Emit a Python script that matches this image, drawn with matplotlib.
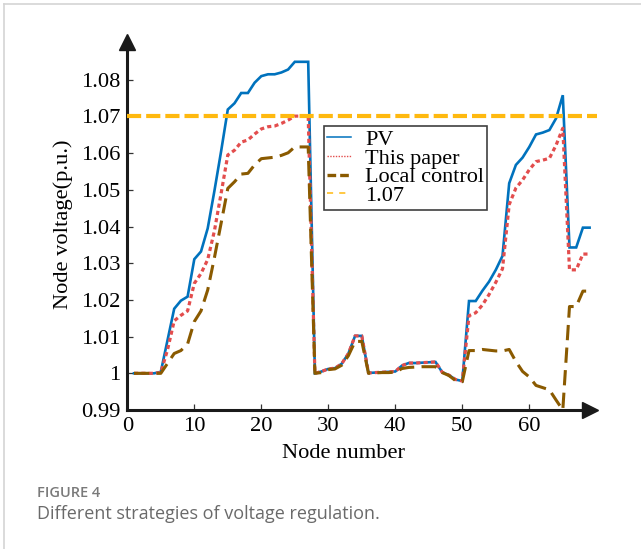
import matplotlib
matplotlib.use("Agg")
import matplotlib.pyplot as plt
from matplotlib.lines import Line2D
import numpy as np

# ---------------- data ----------------
nodes = list(range(1, 70))

pv = [1.0000, 1.0000, 1.0000, 1.0000, 1.0004, 1.0090, 1.0176, 1.0198, 1.0209, 1.0311,
      1.0332, 1.0395, 1.0497, 1.0605, 1.0719, 1.0736, 1.0764, 1.0764, 1.0792, 1.0810,
      1.0815, 1.0815, 1.0820, 1.0828, 1.0849, 1.0849, 1.0849, 1.0000, 1.0005, 1.0012,
      1.0014, 1.0026, 1.0054, 1.0102, 1.0102, 1.0001, 1.0002, 1.0003, 1.0004, 1.0005,
      1.0021, 1.0028, 1.0028, 1.0029, 1.0030, 1.0031, 1.0003, 0.9995, 0.9983, 0.9979,
      1.0197, 1.0197, 1.0225, 1.0250, 1.0282, 1.0320, 1.0518, 1.0568, 1.0588, 1.0617,
      1.0651, 1.0656, 1.0663, 1.0695, 1.0758, 1.0343, 1.0343, 1.0397, 1.0397]

this_paper = [1.0000, 1.0000, 1.0000, 1.0000, 1.0002, 1.0064, 1.0143, 1.0158, 1.0170, 1.0245,
              1.0272, 1.0310, 1.0388, 1.0490, 1.0595, 1.0608, 1.0630, 1.0636, 1.0652, 1.0666,
              1.0672, 1.0674, 1.0681, 1.0690, 1.0701, 1.0701, 1.0701, 1.0000, 1.0005, 1.0012,
              1.0014, 1.0026, 1.0054, 1.0102, 1.0102, 1.0001, 1.0002, 1.0003, 1.0004, 1.0005,
              1.0021, 1.0028, 1.0028, 1.0029, 1.0030, 1.0031, 1.0003, 0.9995, 0.9983, 0.9979,
              1.0157, 1.0165, 1.0186, 1.0215, 1.0248, 1.0285, 1.0460, 1.0505, 1.0527, 1.0555,
              1.0577, 1.0581, 1.0586, 1.0622, 1.0668, 1.0282, 1.0282, 1.0325, 1.0325]

local_control = [1.0000, 1.0000, 1.0000, 1.0000, 1.0000, 1.0027, 1.0054, 1.0062, 1.0080, 1.0141,
                 1.0170, 1.0227, 1.0315, 1.0409, 1.0504, 1.0522, 1.0543, 1.0545, 1.0568, 1.0585,
                 1.0587, 1.0589, 1.0594, 1.0601, 1.0617, 1.0617, 1.0617, 1.0000, 1.0002, 1.0010,
                 1.0012, 1.0022, 1.0048, 1.0087, 1.0087, 1.0000, 1.0001, 1.0002, 1.0002, 1.0003,
                 1.0013, 1.0016, 1.0017, 1.0018, 1.0018, 1.0018, 1.0002, 0.9994, 0.9980, 0.9977,
                 1.0062, 1.0062, 1.0065, 1.0063, 1.0061, 1.0061, 1.0065, 1.0032, 1.0005, 0.9990,
                 0.9967, 0.9961, 0.9955, 0.9927, 0.9900, 1.0182, 1.0182, 1.0224, 1.0224]

limit = 1.07

xticks = [0, 10, 20, 30, 40, 50, 60]
yticks = [0.99, 1.00, 1.01, 1.02, 1.03, 1.04, 1.05, 1.06, 1.07, 1.08]
ytick_labels = ["0.99", "1", "1.01", "1.02", "1.03", "1.04", "1.05", "1.06", "1.07", "1.08"]
legend_labels = ["PV", "This paper", "Local control", "1.07"]

# ---------------- style ----------------
C_PV = "#0072BD"
C_TP = "#E34D4D"
C_LC = "#8A5A00"
C_LIM = "#FFB90F"
SERIF = "Liberation Serif"

W, H = 641, 549
fig = plt.figure(figsize=(W / 100, H / 100), dpi=100)

# axes placement in pixels
ax_l, ax_r, ax_t, ax_b = 127.3, 590.0, 42.0, 410.0
ax = fig.add_axes([ax_l / W, 1 - ax_b / H, (ax_r - ax_l) / W, (ax_b - ax_t) / H])

ax.set_xlim(0, 69.06)
ax.set_ylim(0.99, 1.0903)

ax.plot(nodes, pv, color=C_PV, lw=1.9, solid_joinstyle="miter", clip_on=False, zorder=3)
ax.plot(nodes, this_paper, color=C_TP, lw=2.3, linestyle=(0, (1.3, 1.0)), clip_on=False, zorder=4)
ax.plot(nodes, local_control, color=C_LC, lw=2.2, linestyle=(0, (5.0, 2.4)), clip_on=False, zorder=5)
ax.axhline(limit, xmin=0, xmax=1.015, color=C_LIM, lw=3.0, linestyle=(0, (3.4, 1.2)),
           clip_on=False, zorder=6)

# spines
for s in ["top", "right"]:
    ax.spines[s].set_visible(False)
for s in ["left", "bottom"]:
    ax.spines[s].set_linewidth(2.2)
    ax.spines[s].set_color("#1a1a1a")

# arrow heads
ax.plot(1, 0, marker=">", color="#1a1a1a", markersize=11, transform=ax.transAxes, clip_on=False, zorder=7)
ax.plot(0, 1, marker="^", color="#1a1a1a", markersize=11, transform=ax.transAxes, clip_on=False, zorder=7)

ax.set_xticks(xticks)
ax.set_xticklabels([str(v) for v in xticks], family=SERIF, fontsize=16.2)
ax.set_yticks(yticks)
ax.set_yticklabels(ytick_labels, family=SERIF, fontsize=16.2)
ax.tick_params(axis="both", direction="in", length=4, width=0.9, color="#333333")
ax.tick_params(axis="x", pad=5)
ax.tick_params(axis="y", pad=5)

ax.set_xlabel("Node number", family=SERIF, fontsize=16.2)
ax.xaxis.set_label_coords((343 - ax_l) / (ax_r - ax_l), (ax_b - 454) / (ax_b - ax_t))
ax.xaxis.label.set_va("center")
ax.set_ylabel("Node voltage(p.u.)", family=SERIF, fontsize=16.2)
ax.yaxis.set_label_coords((63 - ax_l) / (ax_r - ax_l), (ax_b - 224) / (ax_b - ax_t))
ax.yaxis.label.set_va("center")

# legend (thin handles as in the original)
handles = [
    Line2D([], [], color=C_PV, lw=1.1),
    Line2D([], [], color=C_TP, lw=1.0, linestyle=(0, (1, 1))),
    Line2D([], [], color=C_LC, lw=2.4, linestyle=(0, (2.6, 1.2))),
    Line2D([], [], color=C_LIM, lw=1.1, linestyle=(0, (4, 4))),
]
leg = ax.legend(handles, legend_labels, loc="upper left",
                bbox_to_anchor=((324 - ax_l) / (ax_r - ax_l), (ax_b - 126) / (ax_b - ax_t)),
                borderaxespad=0, prop={"family": SERIF, "size": 16},
                frameon=True, fancybox=False, edgecolor="#404040", framealpha=1,
                handlelength=1.05, handletextpad=0.65, borderpad=0.15, labelspacing=-0.08)
leg.get_frame().set_linewidth(1.2)

# figure frame lines (light gray border top & left)
fig.add_artist(Line2D([4 / W, 1], [1 - 3.5 / H, 1 - 3.5 / H], color="#d4d4d4", lw=1.2))
fig.add_artist(Line2D([4 / W, 4 / W], [0, 1 - 3.5 / H], color="#d4d4d4", lw=1.2))

# caption
fig.text(37 / W, 1 - 493 / H, "FIGURE 4", family="Open Sans", fontsize=10.5,
         weight="semibold", color="#7a7a7a", va="center", ha="left")
fig.text(37 / W, 1 - 514 / H, "Different strategies of voltage regulation.", family="Open Sans",
         fontsize=13, color="#6a6a6a", va="center", ha="left")

fig.savefig("out.png", dpi=100)
